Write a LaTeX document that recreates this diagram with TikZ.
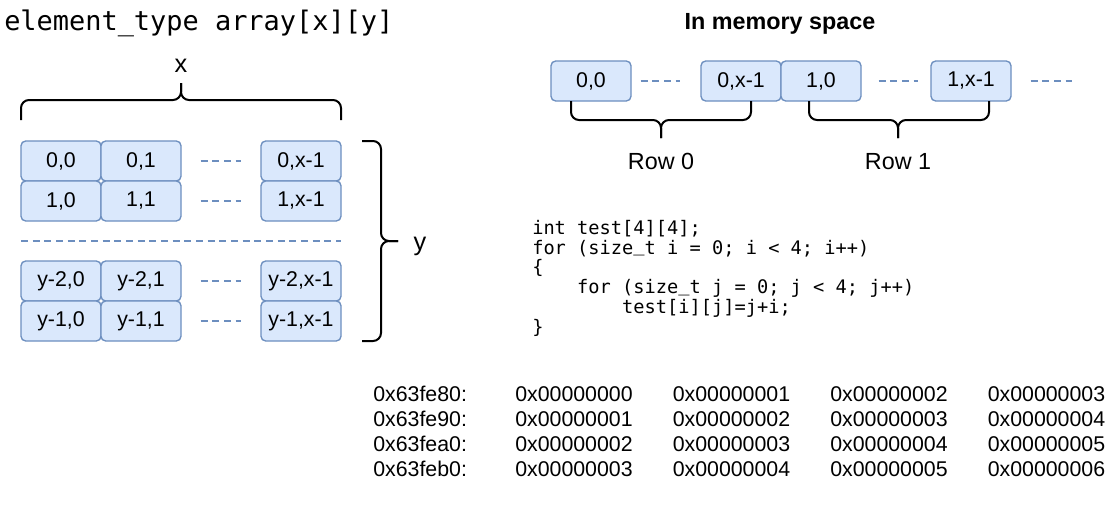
\documentclass[tikz,border=0pt]{standalone}
\usepackage{fontspec}
\setmainfont{Liberation Sans}
\setmonofont{DejaVu Sans Mono}

\definecolor{cellfill}{HTML}{DAE8FC}
\definecolor{cellline}{HTML}{6C8EBF}
\newcommand{\codeus}{\raisebox{1.8pt}{\_}}

\tikzset{
  cell/.style={draw=cellline, fill=cellfill, line width=1pt, rounded corners=3.5pt,
    minimum width=60pt, minimum height=30pt, inner sep=0pt, font=\fontsize{16}{19}\selectfont},
  skipline/.style={cellline, line width=1.1pt, dash pattern=on 5.25pt off 3.5pt},
  bracket/.style={black, line width=1.5pt, rounded corners=6pt},
  bigtext/.style={inner sep=0pt, font=\fontsize{19}{22}\selectfont},
  rowtext/.style={inner sep=0pt, font=\fontsize{17.5}{20}\selectfont},
  hex/.style={inner sep=0pt, font=\fontsize{16}{19}\selectfont},
  code/.style={inner sep=0pt, align=left, font=\ttfamily\fontsize{14}{14.8}\selectfont},
}

\begin{document}
\begin{tikzpicture}[x=0.75pt, y=-0.75pt]
  \useasboundingbox (0,0) rectangle (1118,508);

  % declaration and the 2d view
  \node[inner sep=0pt, anchor=base west, font=\ttfamily\fontsize{20.2}{24}\selectfont] (decl) at (4,30) {element\_type array[x][y]};
  \node[bigtext, anchor=base] (xlab) at (181,72) {x};
  \draw[bracket] (21,120) -- (21,100) -- (181,100) -- (181,83);
  \draw[bracket] (181,83) -- (181,100) -- (341,100) -- (341,120);

  \node[cell] (g00) at (61,161) {0,0};
  \node[cell] (g01) at (141,161) {0,1};
  \node[cell] (g0x) at (301,161) {0,x-1};
  \node[cell] (g10) at (61,201) {1,0};
  \node[cell] (g11) at (141,201) {1,1};
  \node[cell] (g1x) at (301,201) {1,x-1};
  \node[cell] (g20) at (61,281) {y-2,0};
  \node[cell] (g21) at (141,281) {y-2,1};
  \node[cell] (g2x) at (301,281) {y-2,x-1};
  \node[cell] (g30) at (61,321) {y-1,0};
  \node[cell] (g31) at (141,321) {y-1,1};
  \node[cell] (g3x) at (301,321) {y-1,x-1};

  \draw[skipline, shorten <=14.25pt, shorten >=14.25pt] (g01) -- (g0x);
  \draw[skipline, shorten <=14.25pt, shorten >=14.25pt] (g11) -- (g1x);
  \draw[skipline, shorten <=14.25pt, shorten >=14.25pt] (g21) -- (g2x);
  \draw[skipline, shorten <=14.25pt, shorten >=14.25pt] (g31) -- (g3x);
  \draw[skipline] (21,241) -- (341,241);

  \draw[bracket] (362,141) -- (381,141) -- (381,241) -- (398,241);
  \draw[bracket] (398,241) -- (381,241) -- (381,341) -- (362,341);
  \node[bigtext, anchor=base] (ylab) at (420,250) {y};

  % memory view
  \node[inner sep=0pt, anchor=base, font=\bfseries\fontsize{17.5}{20}\selectfont] (memtitle) at (780,29) {In memory space};
  \node[cell] (m00) at (591,81) {0,0};
  \node[cell] (m0x) at (741,81) {0,x-1};
  \node[cell] (m10) at (821,81) {1,0};
  \node[cell] (m1x) at (971,81) {1,x-1};
  \coordinate (tail) at (1072,81);
  \draw[skipline, shorten <=6.75pt, shorten >=15pt] (m00) -- (m0x);
  \draw[skipline, shorten <=12.75pt, shorten >=9pt] (m10) -- (m1x);
  \draw[skipline, shorten <=14.25pt] (m1x.east) -- (tail);

  \draw[bracket] (571,101) -- (571,120) -- (661,120) -- (661,138);
  \draw[bracket] (661,138) -- (661,120) -- (751,120) -- (751,101);
  \draw[bracket] (809,101) -- (809,120) -- (898,120) -- (898,138);
  \draw[bracket] (898,138) -- (898,120) -- (989,120) -- (989,101);
  \node[rowtext, anchor=base] (row0) at (661,169) {Row 0};
  \node[rowtext, anchor=base] (row1) at (898,169) {Row 1};

  % code and dump
  \node[code, anchor=north west] (snippet) at (532,220) {int test[4][4];\\
    for (size\codeus t i = 0; i < 4; i++)\\
    \{\\
    \phantom{0000}for (size\codeus t j = 0; j < 4; j++)\\
    \phantom{00000000}test[i][j]=j+i;\\
    \}};

  \foreach \r/\a in {0/80,1/90,2/a0,3/b0}{
    \node[hex, anchor=base west] (addr\r) at (373,{401.7+25*\r}) {0x63fe\a:};
    \foreach \c in {0,...,3}{
      \pgfmathtruncatemacro{\v}{\r+\c}
      \node[hex, anchor=base west] (val\r\c) at ({515+157.5*\c},{401.7+25*\r}) {0x0000000\v};
    }
  }
\end{tikzpicture}
\end{document}
